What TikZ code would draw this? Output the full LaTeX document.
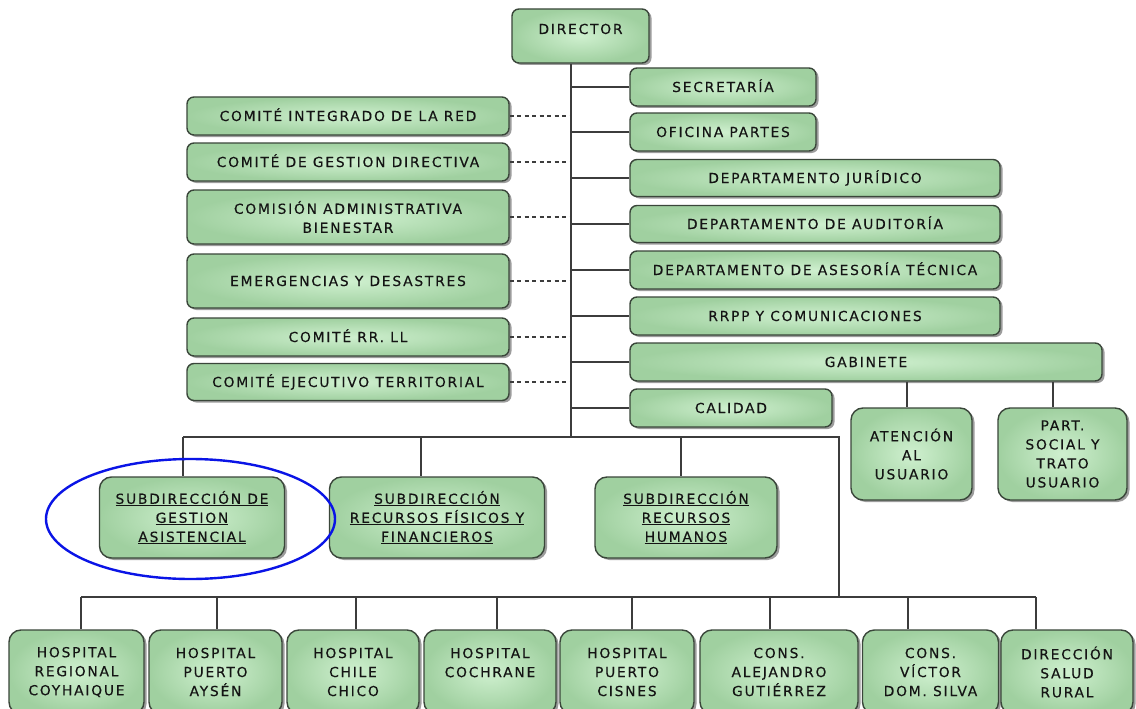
\documentclass[tikz,border=0pt]{standalone}
\usepackage{fontspec}
\newfontfamily\boxfont[LetterSpace=13,FakeBold=0.35]{DejaVu Sans}
\usetikzlibrary{shadows,calc,shapes.geometric}
\definecolor{gin}{HTML}{CFF0CF}
\definecolor{gout}{HTML}{A0D0A0}
\definecolor{edgec}{HTML}{3A463A}
\definecolor{linc}{HTML}{3C3C3C}
\definecolor{txtc}{HTML}{141414}
\definecolor{ellc}{HTML}{0A14E6}
\begin{document}
\begin{tikzpicture}[x=1pt,y=-1pt,
  box/.style={draw=edgec, line width=1.4pt, rounded corners=7pt,
    inner color=gin, outer color=gout,
    drop shadow={shadow xshift=2.5pt, shadow yshift=-2pt, fill=black!70, opacity=.55},
    font=\boxfont\fontsize{13.8}{19}\selectfont, text=txtc, align=center, inner sep=0pt},
  bigbox/.style={box, rounded corners=12pt},
  one/.style={text height=10pt, text depth=0pt},
  lbl/.style={font=\boxfont\fontsize{13.8}{19}\selectfont, text=txtc, align=center, inner sep=0pt, text height=10pt, text depth=0pt},
  conn/.style={draw=linc, line width=1.6pt},
  dsh/.style={conn, dash pattern=on 4pt off 3.5pt},
  ring/.style={draw=ellc, line width=2.4pt}]
\useasboundingbox[fill=white] (0,0) rectangle (1136,709);

% director
\node[box, minimum width=137, minimum height=54] (dir) at (580.5,36) {};
\node[lbl] (dirt) at (580.5,29) {DIRECTOR};

% right column
\node[box,one,minimum width=186,minimum height=38] (sec) at (723,87) {SECRETARÍA};
\node[box,one,minimum width=186,minimum height=38] (ofi) at (723,132) {OFICINA PARTES};
\node[box,one,minimum width=370,minimum height=37] (jur) at (815,178) {DEPARTAMENTO JURÍDICO};
\node[box,one,minimum width=370,minimum height=37] (aud) at (815,224) {DEPARTAMENTO DE AUDITORÍA};
\node[box,one,minimum width=370,minimum height=38] (ase) at (815,270) {DEPARTAMENTO DE ASESORÍA TÉCNICA};
\node[box,one,minimum width=370,minimum height=38] (rrpp) at (815,316) {RRPP Y COMUNICACIONES};
\node[box,one,minimum width=472,minimum height=38] (gab) at (866,362) {GABINETE};
\node[box,one,minimum width=202,minimum height=38] (cal) at (731,408) {CALIDAD};
\node[bigbox,minimum width=121,minimum height=92] (ate) at (911.5,454) {ATENCIÓN\\AL\\USUARIO};
\node[bigbox,minimum width=129,minimum height=92] (par) at (1062.5,454) {PART.\\SOCIAL Y\\TRATO\\USUARIO};

% left column
\node[box,one,minimum width=322,minimum height=38] (cir) at (348,116) {COMITÉ INTEGRADO DE LA RED};
\node[box,one,minimum width=322,minimum height=38] (cgd) at (348,162) {COMITÉ DE GESTION DIRECTIVA};
\node[box,minimum width=322,minimum height=54] (cab) at (348,217) {COMISIÓN ADMINISTRATIVA\\BIENESTAR};
\node[box,one,minimum width=322,minimum height=54] (eyd) at (348,281) {EMERGENCIAS Y DESASTRES};
\node[box,one,minimum width=322,minimum height=38] (crr) at (348,337) {COMITÉ RR. LL};
\node[box,one,minimum width=322,minimum height=37] (cet) at (348,382) {COMITÉ EJECUTIVO TERRITORIAL};

% subdirecciones
\node[bigbox,minimum width=185,minimum height=81] (s1) at (192,517.5) {\underline{SUBDIRECCIÓN DE}\\\underline{GESTION}\\\underline{ASISTENCIAL}};
\node[bigbox,minimum width=215,minimum height=81] (s2) at (437,517.5) {\underline{SUBDIRECCIÓN}\\\underline{RECURSOS FÍSICOS Y}\\\underline{FINANCIEROS}};
\node[bigbox,minimum width=182,minimum height=81] (s3) at (686,517.5) {\underline{SUBDIRECCIÓN}\\\underline{RECURSOS}\\\underline{HUMANOS}};

% hospitals
\node[bigbox,minimum width=135,minimum height=84] (h1) at (76.5,672) {HOSPITAL\\REGIONAL\\COYHAIQUE};
\node[bigbox,minimum width=133,minimum height=84] (h2) at (215.5,672) {HOSPITAL\\PUERTO\\AYSÉN};
\node[bigbox,minimum width=132,minimum height=84] (h3) at (353,672) {HOSPITAL\\CHILE\\CHICO};
\node[bigbox,minimum width=132,minimum height=84] (h4) at (490,672) {HOSPITAL\\COCHRANE\\\phantom{X}};
\node[bigbox,minimum width=134,minimum height=84] (h5) at (627,672) {HOSPITAL\\PUERTO\\CISNES};
\node[bigbox,minimum width=158,minimum height=84] (h6) at (779,672) {CONS.\\ALEJANDRO\\GUTIÉRREZ};
\node[bigbox,minimum width=136,minimum height=84] (h7) at (930.5,672) {CONS.\\VÍCTOR\\DOM. SILVA};
\node[bigbox,minimum width=132,minimum height=84] (h8) at (1067,672) {DIRECCIÓN\\SALUD\\RURAL};

% connector coordinates
\coordinate (bj) at (571,437);
\coordinate (bl) at (183,437);
\coordinate (b2) at (421,437);
\coordinate (b3) at (681,437);
\coordinate (br) at (839,437);
\coordinate (hb) at (839,597);
\coordinate (k1) at (81,597);
\coordinate (k2) at (217,597);
\coordinate (k3) at (356,597);
\coordinate (k4) at (497,597);
\coordinate (k5) at (632,597);
\coordinate (k6) at (770,597);
\coordinate (k7) at (908,597);
\coordinate (k8) at (1036,597);
\coordinate (g1) at (907,395);
\coordinate (g2) at (1053,395);

% trunk
\draw[conn] (dir.south -| bj) -- (bj);
% right branches
\foreach \n in {sec,ofi,jur,aud,ase,rrpp,gab,cal}
  \draw[conn] (\n.west) -- (\n.west -| bj);
% left dashed branches
\foreach \n in {cir,cgd,cab,eyd,crr,cet}
  \draw[dsh] (\n.east) -- (\n.east -| bj);
% gabinete children
\draw[conn] (g1 |- gab.south) -- (g1 |- ate.north);
\draw[conn] (g2 |- gab.south) -- (g2 |- par.north);
% subdirecciones
\draw[conn] (bl) -- (br) -- (hb);
\draw[conn] (bl) -- (bl |- s1.north);
\draw[conn] (b2) -- (b2 |- s2.north);
\draw[conn] (b3) -- (b3 |- s3.north);
% hospitals
\draw[conn] (k1) -- (k8);
\foreach \k/\h in {k1/h1,k2/h2,k3/h3,k4/h4,k5/h5,k6/h6,k7/h7,k8/h8}
  \draw[conn] (\k) -- (\k |- \h.north);

% highlight ellipse
\node[ring, ellipse, minimum width=289, minimum height=120, inner sep=0pt] (ring) at (190.5,519) {};
\end{tikzpicture}
\end{document}
